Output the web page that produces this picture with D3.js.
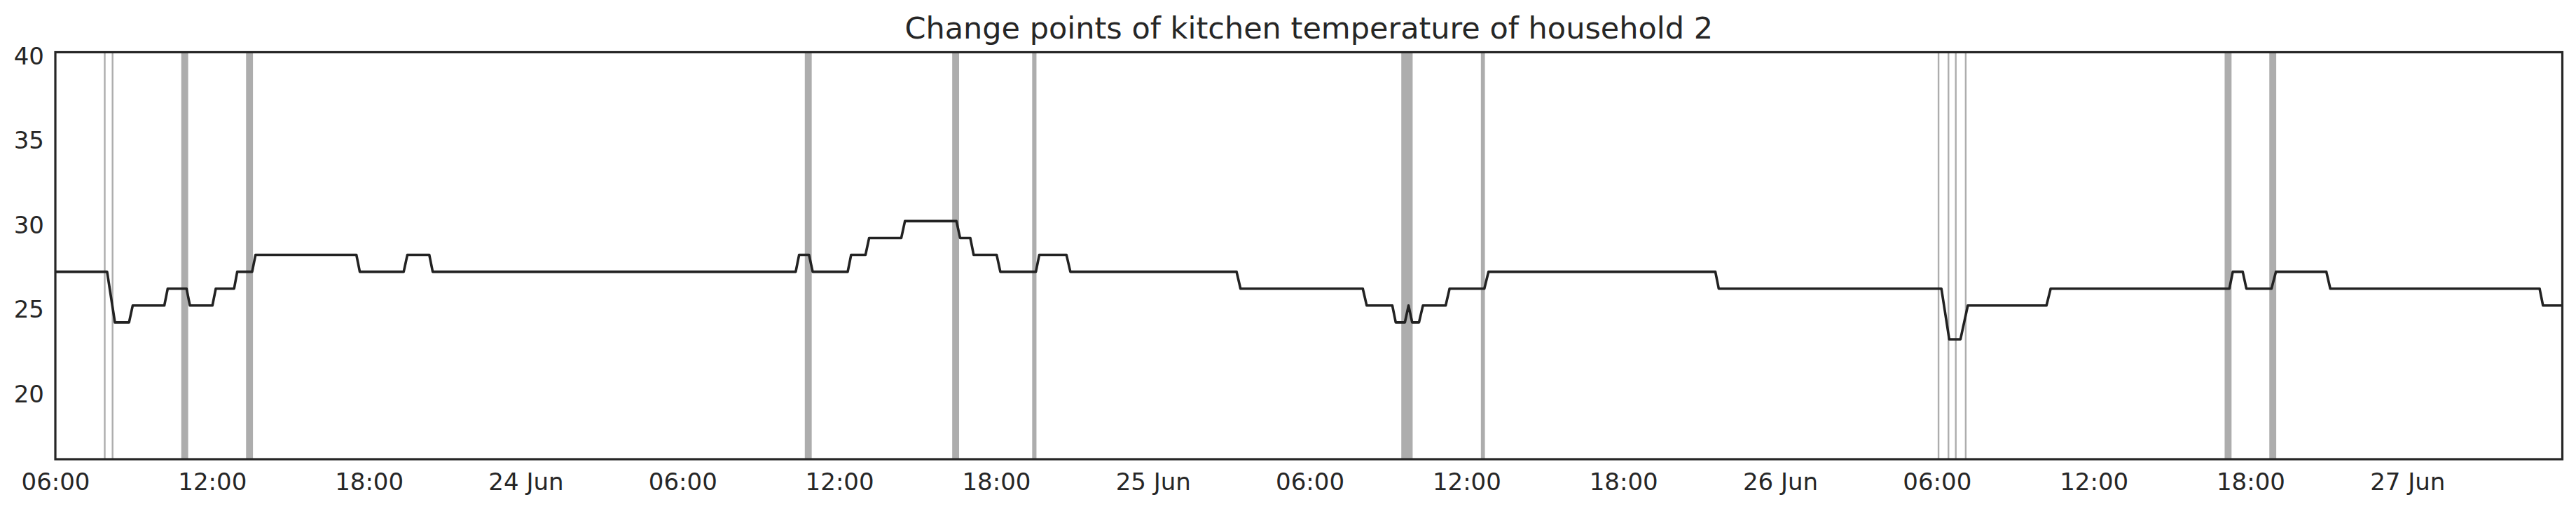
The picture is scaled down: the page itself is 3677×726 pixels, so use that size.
<!DOCTYPE html>
<html>
<head>
<meta charset="utf-8">
<script src="https://cdn.jsdelivr.net/npm/d3@7"></script>
<style>
  html, body { margin: 0; padding: 0; background: #ffffff; }
  svg { display: block; }
  text { font-family: "DejaVu Sans", sans-serif; fill: #262626; }
</style>
</head>
<body>
<svg id="chart" width="3677" height="726"></svg>
<script>
// ---------------- data ----------------
const title = "Change points of kitchen temperature of household 2";
const startTime = "2017-06-23T06:00:00";
const endHour = 95.93;                       // hours after start where the record ends
// temperature series: vertices (hours after start, °C)
const seriesHours = [0, 1.98, 2.28, 2.82, 2.96, 4.17, 4.30, 5.02, 5.15, 6.01, 6.14, 6.84, 6.96, 7.53, 7.66,
  11.52, 11.65, 13.33, 13.47, 14.31, 14.44, 28.33, 28.46, 28.84, 28.98, 30.32, 30.45, 31.0, 31.14,
  32.37, 32.51, 34.48, 34.62, 35.01, 35.14, 36.02, 36.16, 37.52, 37.65, 38.69, 38.84, 45.2, 45.35,
  50.03, 50.18, 51.16, 51.29, 51.64, 51.78, 51.92, 52.18, 52.33, 53.2, 53.35, 54.68, 54.84, 63.52,
  63.65, 72.17, 72.47, 72.9, 73.18, 76.19, 76.35, 83.19, 83.32, 83.70, 83.84, 84.8, 84.97, 86.9,
  87.05, 95.06, 95.19, 95.93];
const seriesTemp = [27, 27, 24, 24, 25, 25, 26, 26, 25, 25, 26, 26, 27, 27, 28,
  28, 27, 27, 28, 28, 27, 27, 28, 28, 27, 27, 28, 28, 29,
  29, 30, 30, 29, 29, 28, 28, 27, 27, 28, 28, 27, 27, 26,
  26, 25, 25, 24, 24, 25, 24, 24, 25, 25, 26, 26, 27, 27,
  26, 26, 23, 23, 25, 25, 26, 26, 27, 27, 26, 26, 27, 27,
  26, 26, 25, 25];
// change points: start / end of each detected change (hours after start)
const changeStart = [1.89, 2.19, 4.85, 7.33, 28.71, 34.35, 37.41, 51.535, 54.58, 72.06, 72.44, 72.72, 73.10, 83.04, 84.75];
const changeEnd   = [1.89, 2.19, 5.05, 7.53, 28.91, 34.55, 37.51, 51.905, 54.67, 72.06, 72.44, 72.72, 73.10, 83.24, 84.95];
const yTicks = [20, 25, 30, 35, 40];
const yDomain = [15.9, 40];

// ---------------- layout ----------------
const W = 3677, H = 726;
const m = { left: 79, right: W - 3657.5, top: 74.5, bottom: H - 655 };
const svg = d3.select("#chart");
svg.append("rect").attr("width", W).attr("height", H).attr("fill", "#ffffff");

const base = d3.isoParse(startTime);
const toDate = h => new Date(base.getTime() + h * 3600e3);

const x = d3.scaleTime().domain([toDate(0), toDate(endHour)]).range([m.left, W - m.right]);
const y = d3.scaleLinear().domain(yDomain).range([H - m.bottom, m.top]);

const defs = svg.append("defs");
defs.append("clipPath").attr("id", "plotclip").append("rect")
  .attr("x", m.left).attr("y", m.top)
  .attr("width", W - m.left - m.right).attr("height", H - m.top - m.bottom);

const plot = svg.append("g").attr("clip-path", "url(#plotclip)");

// change point bands
const cps = changeStart.map((s, i) => ({ s: toDate(s), e: toDate(changeEnd[i]) }));
plot.append("g").selectAll("rect").data(cps).join("rect")
  .attr("x", d => x(d.s) - 1.2)
  .attr("width", d => x(d.e) - x(d.s) + 2.4)
  .attr("y", m.top)
  .attr("height", H - m.top - m.bottom)
  .attr("fill", "#adadad");

// temperature line
const pts = seriesHours.map((h, i) => ({ t: toDate(h), v: seriesTemp[i] }));
plot.append("path").datum(pts)
  .attr("fill", "none")
  .attr("stroke", "#222222")
  .attr("stroke-width", 3.6)
  .attr("stroke-linejoin", "round")
  .attr("d", d3.line().x(d => x(d.t)).y(d => y(d.v)));

// x axis
const fmtDay = d3.timeFormat("%d %b"), fmtHour = d3.timeFormat("%H:%M");
const xAxis = d3.axisBottom(x)
  .ticks(d3.timeHour.every(6))
  .tickSize(0)
  .tickPadding(0)
  .tickFormat(d => d.getHours() === 0 ? fmtDay(d) : fmtHour(d));
const gx = svg.append("g").attr("transform", `translate(0,${H - m.bottom})`).call(xAxis);
gx.select(".domain").remove();
gx.selectAll("text").attr("y", 44).attr("dy", null)
  .style("font-size", "34px").style("fill", "#262626");

// y axis
const yAxis = d3.axisLeft(y).tickValues(yTicks).tickSize(0).tickPadding(16);
const gy = svg.append("g").attr("transform", `translate(${m.left},0)`).call(yAxis);
gy.select(".domain").remove();
gy.selectAll("text").attr("dy", null).attr("y", 17)
  .style("font-size", "34px").style("fill", "#262626");

// frame
svg.append("rect")
  .attr("x", m.left).attr("y", m.top)
  .attr("width", W - m.left - m.right).attr("height", H - m.top - m.bottom)
  .attr("fill", "none").attr("stroke", "#262626").attr("stroke-width", 3.2);

// title
svg.append("text")
  .attr("x", (m.left + W - m.right) / 2).attr("y", 55)
  .attr("text-anchor", "middle")
  .style("font-size", "43px")
  .text(title);
</script>
</body>
</html>
